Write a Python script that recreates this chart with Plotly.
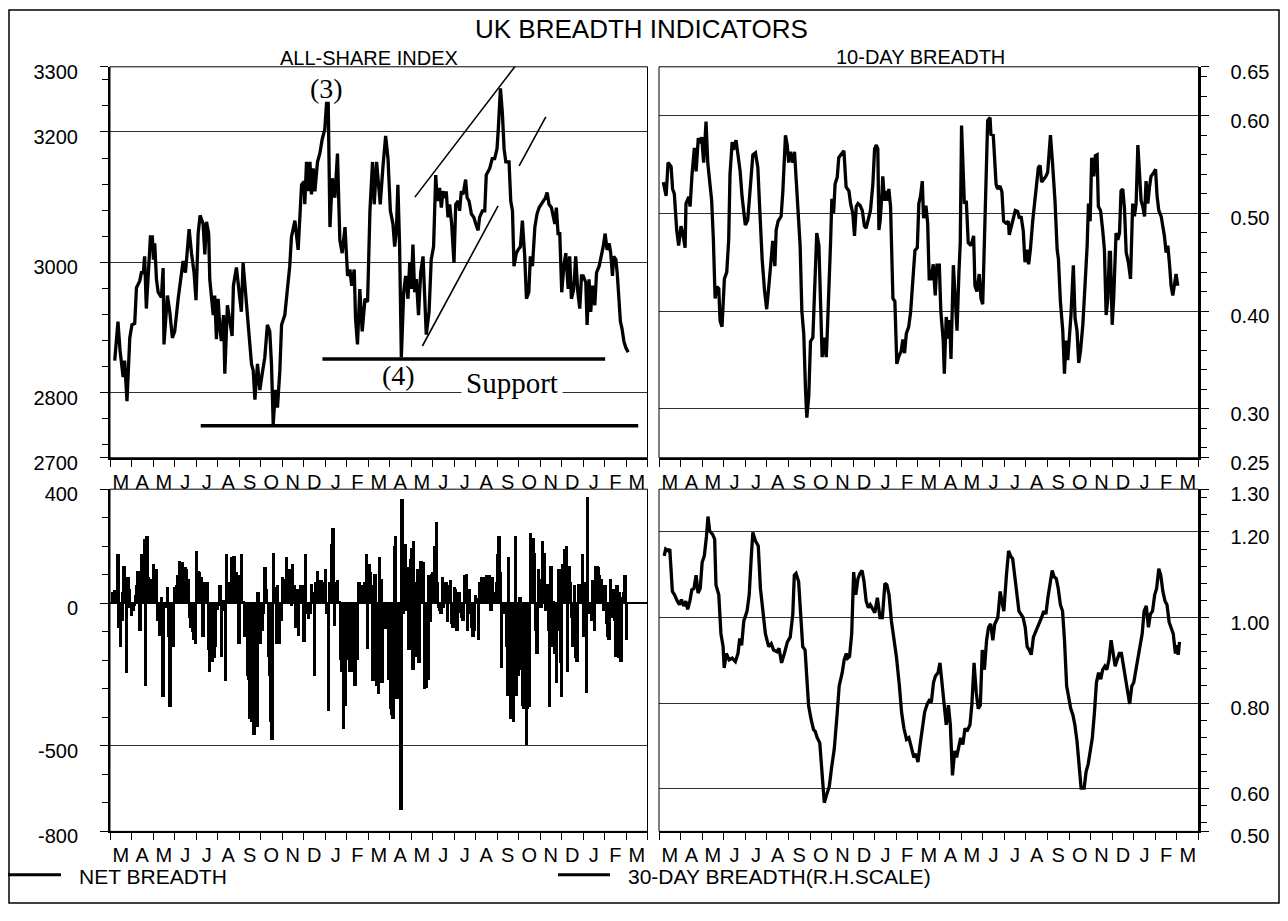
import plotly.graph_objects as go

# ---------------------------------------------------------------------------
# Data.  Time is measured in months from 1 March 1999 (0 = 1 Mar 1999,
# 10 = 1 Jan 2000, 22 = 1 Jan 2001); the axes run to 1 April 2001.
# ---------------------------------------------------------------------------
month_letters = list("MAMJJASONDJFMAMJJASONDJFM")

# FT All-Share index
share_t = [0.22, 0.37, 0.47, 0.61, 0.68, 0.79, 0.92, 1.02, 1.15, 1.23,
           1.38, 1.46, 1.55, 1.61, 1.69, 1.77, 1.88, 1.97, 2.02, 2.08,
           2.16, 2.24, 2.39, 2.47, 2.51, 2.67, 2.78, 2.90, 3.01, 3.17,
           3.29, 3.40, 3.51, 3.68, 3.79, 3.91, 4.00, 4.10, 4.19, 4.33,
           4.41, 4.49, 4.59, 4.64, 4.80, 4.87, 4.95, 5.03, 5.11, 5.18,
           5.28, 5.34, 5.46, 5.59, 5.68, 5.74, 5.88, 6.04, 6.11, 6.19,
           6.30, 6.43, 6.58, 6.66, 6.74, 6.86, 6.97, 7.08, 7.20, 7.32,
           7.43, 7.51, 7.59, 7.70, 7.79, 7.90, 7.98, 8.13, 8.29, 8.36,
           8.44, 8.60, 8.75, 8.83, 8.91, 9.03, 9.06, 9.14, 9.22, 9.30,
           9.37, 9.45, 9.53, 9.65, 9.76, 9.87, 9.99, 10.07, 10.15, 10.23,
           10.34, 10.46, 10.58, 10.69, 10.80, 10.93, 11.05, 11.16, 11.24, 11.36,
           11.42, 11.51, 11.62, 11.73, 11.86, 11.98, 12.09, 12.21, 12.29, 12.40,
           12.48, 12.57, 12.69, 12.82, 12.93, 13.04, 13.16, 13.24, 13.32, 13.39,
           13.47, 13.55, 13.66, 13.75, 13.86, 13.94, 14.01, 14.09, 14.17, 14.25,
           14.35, 14.45, 14.56, 14.63, 14.71, 14.84, 14.94, 15.05, 15.15, 15.22,
           15.33, 15.41, 15.49, 15.57, 15.64, 15.72, 15.80, 15.89, 16.00, 16.08,
           16.19, 16.26, 16.34, 16.42, 16.54, 16.61, 16.70, 16.81, 16.92, 17.01,
           17.12, 17.19, 17.32, 17.43, 17.50, 17.66, 17.78, 17.89, 18.00, 18.06,
           18.16, 18.25, 18.33, 18.41, 18.48, 18.56, 18.64, 18.72, 18.79, 18.90,
           18.98, 19.09, 19.18, 19.29, 19.37, 19.48, 19.55, 19.65, 19.76, 19.86,
           19.96, 20.07, 20.14, 20.25, 20.33, 20.42, 20.53, 20.61, 20.69, 20.76,
           20.84, 20.92, 21.01, 21.11, 21.20, 21.31, 21.38, 21.46, 21.57, 21.66,
           21.76, 21.85, 21.93, 22.01, 22.13, 22.19, 22.28, 22.36, 22.44, 22.55,
           22.63, 22.75, 22.86, 22.94, 23.03, 23.12, 23.22, 23.29, 23.37, 23.43,
           23.53, 23.59, 23.67, 23.74, 23.81, 23.90, 23.99, 24.10]
share_v = [2849, 2909, 2864, 2824, 2849, 2787, 2884, 2904, 2906, 2961,
           2971, 2984, 2984, 3009, 2929, 2984, 3039, 3039, 3004, 3029,
           2974, 2954, 2946, 2991, 2874, 2949, 2924, 2884, 2894, 2944,
           2974, 3002, 2984, 3051, 3014, 2984, 2942, 3044, 3072, 3059,
           3012, 3062, 3044, 2974, 2919, 2949, 2882, 2944, 2899, 2879,
           2919, 2829, 2934, 2904, 2887, 2964, 2992, 2944, 2924, 2999,
           2954, 2914, 2844, 2834, 2789, 2844, 2804, 2829, 2854, 2904,
           2894, 2844, 2752, 2804, 2777, 2834, 2904, 2919, 2964, 2994,
           3039, 3064, 3019, 3069, 3119, 3124, 3089, 3154, 3109, 3154,
           3104, 3144, 3109, 3154, 3167, 3189, 3204, 3244, 3244, 3054,
           3129, 3099, 3167, 3034, 3014, 3054, 2979, 2989, 2964, 2989,
           2914, 2874, 2959, 2894, 2944, 2939, 3079, 3154, 3089, 3154,
           3124, 3089, 3144, 3194, 3159, 3079, 3059, 3024, 3049, 3119,
           3024, 2854, 2954, 2979, 2944, 3000, 2959, 3027, 2954, 2974,
           2919, 2984, 3009, 2934, 2889, 2924, 3004, 3024, 3134, 3094,
           3114, 3084, 3109, 3099, 3109, 3069, 3089, 3059, 2999, 3089,
           3094, 3079, 3109, 3104, 3127, 3099, 3094, 3074, 3069, 3059,
           3049, 3069, 3079, 3079, 3134, 3144, 3159, 3159, 3174, 3204,
           3267, 3229, 3174, 3154, 3154, 3154, 3094, 3079, 2994, 3014,
           3019, 3024, 3064, 3009, 2944, 2954, 3009, 2994, 3054, 3074,
           3084, 3089, 3094, 3099, 3107, 3089, 3084, 3069, 3059, 3084,
           3044, 3044, 2954, 2994, 3014, 2959, 3009, 2944, 2959, 3009,
           2954, 2929, 2979, 2979, 2969, 2904, 2974, 2924, 2964, 2934,
           2984, 2994, 3009, 3024, 3044, 3019, 3029, 3014, 2979, 3009,
           3004, 2984, 2944, 2909, 2899, 2879, 2869, 2862]

# 10-day breadth
b10_t = [0.20, 0.33, 0.42, 0.56, 0.63, 0.71, 0.82, 0.91, 1.02, 1.10,
         1.21, 1.25, 1.38, 1.44, 1.53, 1.64, 1.72, 1.82, 1.92, 1.98,
         2.07, 2.18, 2.26, 2.34, 2.44, 2.52, 2.60, 2.68, 2.77, 2.83,
         2.92, 3.03, 3.14, 3.23, 3.29, 3.39, 3.45, 3.57, 3.65, 3.76,
         3.85, 3.93, 4.00, 4.11, 4.22, 4.35, 4.47, 4.58, 4.65, 4.78,
         4.89, 4.99, 5.12, 5.20, 5.27, 5.37, 5.43, 5.52, 5.66, 5.74,
         5.81, 5.86, 5.94, 6.01, 6.09, 6.20, 6.28, 6.39, 6.54, 6.62,
         6.71, 6.79, 6.85, 6.94, 7.02, 7.13, 7.24, 7.31, 7.41, 7.48,
         7.56, 7.64, 7.75, 7.79, 7.87, 7.95, 8.01, 8.09, 8.16, 8.26,
         8.33, 8.44, 8.57, 8.67, 8.80, 8.88, 8.98, 9.06, 9.14, 9.22,
         9.32, 9.42, 9.52, 9.60, 9.69, 9.80, 9.91, 9.99, 10.07, 10.14,
         10.19, 10.25, 10.33, 10.37, 10.45, 10.53, 10.61, 10.65, 10.73, 10.84,
         10.93, 11.02, 11.12, 11.22, 11.30, 11.38, 11.46, 11.57, 11.66, 11.77,
         11.86, 11.97, 12.04, 12.12, 12.20, 12.26, 12.37, 12.45, 12.52, 12.60,
         12.71, 12.80, 12.88, 12.99, 13.06, 13.17, 13.22, 13.31, 13.41, 13.47,
         13.53, 13.64, 13.71, 13.81, 13.90, 13.96, 14.02, 14.09, 14.15, 14.24,
         14.33, 14.46, 14.58, 14.64, 14.73, 14.84, 14.92, 15.00, 15.11, 15.17,
         15.23, 15.34, 15.38, 15.49, 15.62, 15.69, 15.80, 15.89, 15.97, 16.08,
         16.19, 16.23, 16.34, 16.44, 16.51, 16.62, 16.70, 16.78, 16.88, 16.96,
         17.05, 17.13, 17.21, 17.32, 17.42, 17.50, 17.58, 17.66, 17.73, 17.83,
         17.93, 18.01, 18.06, 18.14, 18.24, 18.35, 18.45, 18.51, 18.60, 18.71,
         18.79, 18.86, 18.94, 19.02, 19.09, 19.20, 19.28, 19.37, 19.45, 19.53,
         19.64, 19.74, 19.84, 19.90, 19.98, 20.05, 20.15, 20.22, 20.30, 20.36,
         20.46, 20.56, 20.64, 20.72, 20.80, 20.87, 20.92, 21.00, 21.07, 21.18,
         21.26, 21.34, 21.41, 21.49, 21.57, 21.65, 21.75, 21.85, 21.95, 22.03,
         22.11, 22.19, 22.26, 22.34, 22.42, 22.50, 22.57, 22.65, 22.73, 22.80,
         22.93, 23.01, 23.08, 23.16, 23.27, 23.35, 23.42, 23.50, 23.58, 23.66,
         23.73, 23.81, 23.89, 23.96, 24.04]
b10_v = [0.532, 0.518, 0.552, 0.548, 0.525, 0.520, 0.483, 0.467, 0.487, 0.480,
         0.465, 0.510, 0.517, 0.507, 0.540, 0.567, 0.543, 0.577, 0.572, 0.578,
         0.552, 0.594, 0.552, 0.537, 0.513, 0.473, 0.413, 0.425, 0.423, 0.390,
         0.384, 0.433, 0.440, 0.473, 0.540, 0.573, 0.565, 0.575, 0.560, 0.543,
         0.517, 0.503, 0.488, 0.493, 0.523, 0.560, 0.562, 0.547, 0.513, 0.453,
         0.421, 0.402, 0.433, 0.457, 0.472, 0.446, 0.483, 0.492, 0.497, 0.523,
         0.560, 0.580, 0.570, 0.552, 0.563, 0.552, 0.563, 0.523, 0.467, 0.400,
         0.376, 0.319, 0.291, 0.313, 0.369, 0.373, 0.440, 0.480, 0.467, 0.420,
         0.353, 0.373, 0.353, 0.373, 0.413, 0.470, 0.515, 0.500, 0.530, 0.537,
         0.557, 0.560, 0.564, 0.527, 0.523, 0.510, 0.500, 0.477, 0.507, 0.510,
         0.508, 0.503, 0.487, 0.485, 0.495, 0.503, 0.530, 0.566, 0.570, 0.566,
         0.483, 0.493, 0.520, 0.538, 0.513, 0.523, 0.513, 0.525, 0.507, 0.413,
         0.410, 0.346, 0.354, 0.359, 0.371, 0.357, 0.377, 0.384, 0.399, 0.433,
         0.462, 0.465, 0.510, 0.518, 0.533, 0.495, 0.508, 0.490, 0.433, 0.433,
         0.448, 0.416, 0.447, 0.447, 0.400, 0.370, 0.336, 0.394, 0.372, 0.391,
         0.351, 0.447, 0.413, 0.380, 0.440, 0.470, 0.590, 0.540, 0.510, 0.513,
         0.470, 0.467, 0.477, 0.426, 0.420, 0.438, 0.413, 0.407, 0.487, 0.552,
         0.595, 0.598, 0.581, 0.580, 0.530, 0.525, 0.528, 0.522, 0.492, 0.490,
         0.492, 0.478, 0.487, 0.498, 0.503, 0.502, 0.495, 0.497, 0.482, 0.450,
         0.463, 0.448, 0.463, 0.493, 0.517, 0.532, 0.547, 0.549, 0.532, 0.535,
         0.538, 0.542, 0.560, 0.580, 0.550, 0.513, 0.463, 0.453, 0.410, 0.380,
         0.336, 0.370, 0.350, 0.370, 0.396, 0.447, 0.393, 0.380, 0.347, 0.359,
         0.386, 0.426, 0.467, 0.510, 0.492, 0.557, 0.538, 0.559, 0.560, 0.507,
         0.503, 0.483, 0.463, 0.396, 0.413, 0.460, 0.460, 0.386, 0.413, 0.480,
         0.473, 0.480, 0.523, 0.525, 0.505, 0.460, 0.450, 0.433, 0.510, 0.497,
         0.510, 0.570, 0.537, 0.513, 0.507, 0.497, 0.533, 0.510, 0.527, 0.538,
         0.542, 0.545, 0.518, 0.503, 0.497, 0.487, 0.477, 0.460, 0.467, 0.447,
         0.426, 0.416, 0.431, 0.438, 0.426]

# 30-day breadth
b30_t = [0.24, 0.31, 0.43, 0.50, 0.62, 0.72, 0.85, 0.95, 1.04, 1.14,
         1.24, 1.33, 1.43, 1.52, 1.62, 1.72, 1.81, 1.91, 2.00, 2.10,
         2.20, 2.27, 2.35, 2.49, 2.58, 2.64, 2.77, 2.87, 2.97, 3.02,
         3.12, 3.25, 3.39, 3.54, 3.66, 3.74, 3.83, 3.93, 4.08, 4.18,
         4.27, 4.35, 4.47, 4.60, 4.70, 4.81, 4.93, 5.08, 5.20, 5.31,
         5.47, 5.56, 5.68, 5.81, 5.95, 6.08, 6.20, 6.27, 6.35, 6.47,
         6.58, 6.66, 6.77, 6.85, 6.93, 7.04, 7.16, 7.24, 7.33, 7.45,
         7.58, 7.66, 7.77, 7.89, 8.00, 8.12, 8.25, 8.35, 8.49, 8.58,
         8.68, 8.74, 8.83, 8.93, 9.02, 9.12, 9.22, 9.31, 9.41, 9.50,
         9.60, 9.70, 9.79, 9.89, 10.00, 10.12, 10.24, 10.35, 10.47, 10.56,
         10.66, 10.77, 10.89, 11.00, 11.14, 11.24, 11.35, 11.47, 11.58, 11.72,
         11.81, 11.91, 12.00, 12.10, 12.20, 12.31, 12.43, 12.52, 12.62, 12.72,
         12.81, 12.93, 13.02, 13.12, 13.22, 13.31, 13.41, 13.50, 13.60, 13.70,
         13.79, 13.89, 13.98, 14.08, 14.18, 14.27, 14.41, 14.50, 14.60, 14.70,
         14.79, 14.89, 14.98, 15.08, 15.18, 15.27, 15.37, 15.47, 15.56, 15.70,
         15.81, 15.89, 15.98, 16.10, 16.20, 16.29, 16.39, 16.48, 16.58, 16.68,
         16.77, 16.87, 16.97, 17.06, 17.16, 17.25, 17.35, 17.45, 17.54, 17.64,
         17.73, 17.83, 17.93, 18.02, 18.12, 18.22, 18.31, 18.41, 18.50, 18.60,
         18.70, 18.79, 18.89, 18.98, 19.08, 19.18, 19.27, 19.37, 19.47, 19.56,
         19.70, 19.79, 19.89, 19.98, 20.08, 20.18, 20.27, 20.37, 20.47, 20.56,
         20.66, 20.75, 20.85, 20.95, 21.04, 21.14, 21.23, 21.33, 21.43, 21.52,
         21.62, 21.72, 21.81, 21.91, 22.00, 22.10, 22.20, 22.29, 22.39, 22.48,
         22.58, 22.68, 22.77, 22.87, 22.97, 23.06, 23.16, 23.25, 23.35, 23.45,
         23.54, 23.64, 23.73, 23.83, 23.93, 23.98, 24.06, 24.12]
b30_v = [1.144, 1.160, 1.156, 1.160, 1.061, 1.053, 1.038, 1.030, 1.042, 1.027,
         1.038, 1.019, 1.038, 1.065, 1.068, 1.099, 1.057, 1.068, 1.129, 1.144,
         1.190, 1.236, 1.202, 1.194, 1.183, 1.076, 1.053, 0.962, 0.932, 0.882,
         0.916, 0.901, 0.905, 0.897, 0.916, 0.951, 0.935, 0.992, 1.015, 1.053,
         1.137, 1.199, 1.179, 1.167, 1.068, 1.015, 0.962, 0.932, 0.939, 0.924,
         0.920, 0.928, 0.894, 0.916, 0.943, 0.954, 1.008, 1.099, 1.103, 1.084,
         0.992, 0.932, 0.924, 0.856, 0.795, 0.764, 0.738, 0.734, 0.719, 0.707,
         0.612, 0.567, 0.586, 0.605, 0.650, 0.692, 0.772, 0.840, 0.871, 0.901,
         0.916, 0.905, 0.909, 0.962, 1.106, 1.053, 1.091, 1.103, 1.110, 1.084,
         1.038, 1.023, 1.030, 1.019, 1.011, 1.046, 1.000, 1.000, 1.080, 1.076,
         1.053, 0.992, 0.947, 0.909, 0.840, 0.779, 0.741, 0.715, 0.719, 0.688,
         0.673, 0.681, 0.662, 0.703, 0.741, 0.779, 0.798, 0.806, 0.802, 0.848,
         0.863, 0.871, 0.894, 0.840, 0.787, 0.749, 0.795, 0.749, 0.631, 0.688,
         0.673, 0.703, 0.719, 0.703, 0.741, 0.734, 0.749, 0.798, 0.894, 0.825,
         0.787, 0.795, 0.924, 0.878, 0.947, 0.977, 0.985, 0.947, 0.985, 1.000,
         1.061, 1.038, 1.015, 1.099, 1.156, 1.144, 1.137, 1.099, 1.053, 1.015,
         1.008, 1.000, 0.977, 0.932, 0.924, 0.913, 0.954, 0.966, 0.973, 0.989,
         1.000, 1.015, 1.008, 1.046, 1.084, 1.110, 1.095, 1.091, 1.068, 1.030,
         1.015, 0.947, 0.840, 0.810, 0.787, 0.772, 0.749, 0.711, 0.650, 0.601,
         0.601, 0.639, 0.658, 0.684, 0.719, 0.779, 0.848, 0.871, 0.856, 0.878,
         0.886, 0.878, 0.901, 0.947, 0.916, 0.886, 0.901, 0.916, 0.916, 0.886,
         0.856, 0.825, 0.798, 0.840, 0.848, 0.878, 0.909, 0.939, 0.962, 1.015,
         1.027, 0.977, 1.008, 1.015, 1.053, 1.068, 1.114, 1.099, 1.061, 1.038,
         1.030, 0.989, 0.977, 0.962, 0.916, 0.935, 0.913, 0.943]

# Daily net breadth (advances minus declines)
net_t = [0.14, 0.22, 0.29, 0.37, 0.42, 0.50, 0.56, 0.61, 0.65, 0.71,
         0.78, 0.84, 0.88, 0.93, 0.99, 1.06, 1.12, 1.18, 1.24, 1.30,
         1.37, 1.40, 1.46, 1.52, 1.57, 1.61, 1.66, 1.72, 1.77, 1.85,
         1.92, 2.02, 2.08, 2.16, 2.20, 2.27, 2.31, 2.39, 2.47, 2.55,
         2.67, 2.73, 2.79, 2.89, 2.95, 3.01, 3.09, 3.17, 3.23, 3.29,
         3.35, 3.41, 3.51, 3.57, 3.63, 3.69, 3.76, 3.83, 3.91, 3.97,
         4.03, 4.10, 4.17, 4.25, 4.33, 4.41, 4.48, 4.53, 4.59, 4.64,
         4.69, 4.75, 4.81, 4.87, 4.90, 4.97, 5.03, 5.11, 5.15, 5.18,
         5.25, 5.31, 5.37, 5.43, 5.49, 5.57, 5.65, 5.71, 5.76, 5.80,
         5.87, 5.93, 5.99, 6.05, 6.11, 6.19, 6.27, 6.33, 6.39, 6.46,
         6.52, 6.58, 6.64, 6.70, 6.77, 6.83, 6.89, 6.94, 7.00, 7.08,
         7.14, 7.20, 7.28, 7.36, 7.43, 7.48, 7.54, 7.60, 7.67, 7.74,
         7.79, 7.87, 7.95, 8.01, 8.10, 8.21, 8.29, 8.36, 8.44, 8.49,
         8.57, 8.64, 8.72, 8.78, 8.85, 8.91, 8.99, 9.03, 9.09, 9.16,
         9.22, 9.30, 9.37, 9.44, 9.50, 9.56, 9.65, 9.71, 9.81, 9.92,
         10.02, 10.10, 10.15, 10.23, 10.30, 10.38, 10.43, 10.49, 10.57, 10.65,
         10.72, 10.77, 10.85, 10.89, 10.96, 11.02, 11.08, 11.11, 11.16, 11.24,
         11.31, 11.39, 11.45, 11.51, 11.58, 11.62, 11.70, 11.78, 11.86, 11.93,
         11.98, 12.04, 12.12, 12.17, 12.24, 12.32, 12.40, 12.48, 12.54, 12.62,
         12.66, 12.72, 12.82, 12.90, 12.97, 13.04, 13.10, 13.16, 13.22, 13.28,
         13.35, 13.41, 13.47, 13.53, 13.59, 13.66, 13.72, 13.78, 13.84, 13.90,
         13.97, 14.03, 14.09, 14.12, 14.18, 14.25, 14.31, 14.37, 14.43, 14.49,
         14.56, 14.62, 14.71, 14.79, 14.84, 14.90, 14.96, 15.02, 15.10, 15.18,
         15.24, 15.27, 15.33, 15.39, 15.46, 15.52, 15.58, 15.64, 15.69, 15.77,
         15.83, 15.89, 15.95, 16.02, 16.08, 16.14, 16.23, 16.29, 16.36, 16.42,
         16.50, 16.57, 16.64, 16.70, 16.76, 16.82, 16.88, 16.95, 17.01, 17.07,
         17.13, 17.19, 17.27, 17.35, 17.43, 17.50, 17.58, 17.66, 17.72, 17.78,
         17.85, 17.91, 17.97, 18.03, 18.09, 18.16, 18.22, 18.28, 18.36, 18.44,
         18.48, 18.54, 18.59, 18.65, 18.72, 18.78, 18.81, 18.85, 18.90, 18.98,
         19.06, 19.12, 19.18, 19.24, 19.31, 19.37, 19.43, 19.49, 19.55, 19.62,
         19.68, 19.74, 19.80, 19.86, 19.93, 19.99, 20.05, 20.11, 20.17, 20.21,
         20.27, 20.33, 20.39, 20.45, 20.52, 20.58, 20.64, 20.70, 20.76, 20.83,
         20.89, 20.95, 21.01, 21.07, 21.15, 21.23, 21.29, 21.35, 21.42, 21.48,
         21.54, 21.60, 21.66, 21.73, 21.79, 21.85, 21.91, 21.97, 22.04, 22.10,
         22.16, 22.22, 22.28, 22.35, 22.41, 22.47, 22.53, 22.59, 22.66, 22.73,
         22.78, 22.84, 22.90, 22.97, 23.03, 23.09, 23.15, 23.21, 23.28, 23.34,
         23.40, 23.46, 23.53, 23.59, 23.65, 23.71, 23.77, 23.84, 23.90, 23.96,
         24.02]
net_v = [40, 46, 40, 171, -86, -154, -63, 40, 131, 63,
         -245, 91, 51, -17, -46, -29, -11, 29, 63, 114,
         97, -97, 171, 97, 171, 223, -291, 234, 91, 86,
         5, 137, 120, 120, -63, -5, -114, 23, -331, -17,
         57, -120, -365, -17, -154, 57, 63, 97, 148, 86,
         143, 63, 126, 120, 86, -51, -86, -103, -131, -143,
         183, 114, 108, 91, -120, 74, 23, 74, -166, -240,
         -143, -205, -143, -194, -154, -23, -11, 63, 57, -188,
         11, -29, -274, 171, 40, 74, 160, 97, 166, 114,
         108, 74, -143, 97, 171, 6, -120, -74, -257, -268,
         -405, -417, -325, -462, -268, -434, 40, -108, -143, -97,
         -40, 126, 51, -188, -257, -417, -479, 177, 57, -143,
         63, -143, -63, 91, 86, 160, 86, 120, -11, 137,
         63, -86, 51, -114, 63, 57, 63, -137, 171, -40,
         -57, -40, 68, 40, -257, 74, 114, 80, 80, 74,
         120, -40, -377, 74, 206, 263, -80, 74, 80, 6,
         -200, -240, -440, -200, -360, -200, -154, -200, -240, -200,
         -240, -291, -200, -200, 74, 63, 51, 63, 74, 171,
         -160, 137, 108, 63, -274, 103, -291, -320, 160, 86,
         -280, -23, -91, -11, -268, -371, -394, -405, 200, 234,
         -337, -325, -285, -725, 365, -40, 206, -29, 126, -166,
         154, 194, -234, 217, 74, -188, 120, -211, 148, 148,
         143, -302, -297, -268, 97, -68, 103, 108, 200, 285,
         74, -17, -29, -40, 91, -17, 74, 74, -68, 63,
         80, -74, -86, 57, 51, -97, 40, -34, -51, -63,
         97, 103, -97, 51, -40, -86, -120, -97, 29, 17,
         -131, 74, 91, 91, 40, 97, 91, 97, -29, 91,
         40, 40, 74, 171, 234, 108, -228, -40, -11, -154,
         -325, 160, -171, -405, -245, -417, -40, 234, -325, -257,
         23, -234, -360, -371, -371, -497, -371, -365, 245, 200,
         228, 177, -97, -177, 120, 86, -17, 217, 74, 177,
         -29, 68, -97, -365, 131, -154, 6, -177, -280, -97,
         120, -211, -331, 137, 188, 200, -240, 131, 74, -51,
         -154, 63, -194, -205, 68, 29, 68, 171, -120, 74,
         -314, 371, -40, -34, -63, 80, -97, 131, 131, 126,
         97, 86, 40, -29, 63, -74, -120, -131, 86, -51,
         51, -63, -188, 63, -194, 40, -205, 23, 40, 97,
         -131]

# Trend-line annotations on the index panel: (t0, v0, t1, v1)
support_long = (4.22, 2749, 24.57, 2749)
support_short = (9.88, 2851.5, 23.03, 2851.5)
wedge_upper = (14.18, 3100, 19.08, 3311)
wedge_lower = (14.53, 2871.5, 18.05, 3086.5)
wedge_return = (19.03, 3148, 20.27, 3223)

# ---------------------------------------------------------------------------
# Styling
# ---------------------------------------------------------------------------
W, H = 1288, 921
SANS = "Liberation Sans, Arial, Helvetica, sans-serif"
SERIF = "Liberation Serif, Times New Roman, serif"
INK = "black"
GRID = "#303030"
LINE_W = 3.3


def fx(px):
    return px / W


def fy(py):
    return 1 - py / H


left_dom = [fx(110), fx(647.5)]
right_dom = [fx(659), fx(1198.5)]
top_dom = [fy(462.8), fy(62.3)]
bot_dom = [fy(845.6), fy(495.0)]


def time_axis(domain, anchor):
    return dict(
        domain=domain, anchor=anchor, range=[0, 25],
        tickmode="array", tickvals=[i + 0.5 for i in range(25)],
        ticktext=month_letters, ticks="",
        tickfont=dict(family=SANS, size=20, color=INK),
        ticklabelstandoff=5,
        showline=True, linecolor=INK, linewidth=2,
        showgrid=False, zeroline=False, fixedrange=True,
        minor=dict(tickmode="linear", tick0=0, dtick=1, ticks="outside",
                   ticklen=7, tickwidth=1, tickcolor=INK, showgrid=False),
    )


def value_axis(domain, anchor, rng, vals, text, minor0, minordt, side="left"):
    return dict(
        domain=domain, anchor=anchor, range=rng, side=side,
        tickmode="array", tickvals=vals, ticktext=text,
        ticks="outside", ticklen=8, tickwidth=1, tickcolor=INK,
        tickfont=dict(family=SANS, size=20, color=INK),
        ticklabelstandoff=18, ticklabelshift=5,
        showline=True, linecolor=INK, linewidth=2,
        showgrid=True, gridcolor=GRID, gridwidth=1,
        zeroline=False, fixedrange=True,
        minor=dict(tickmode="linear", tick0=minor0, dtick=minordt,
                   ticks="outside", ticklen=6, tickwidth=1, tickcolor=INK,
                   showgrid=False),
    )


fig = go.Figure()

fig.add_trace(go.Scatter(x=share_t, y=share_v, mode="lines",
                         line=dict(color=INK, width=LINE_W), xaxis="x", yaxis="y",
                         showlegend=False, hoverinfo="skip"))
fig.add_trace(go.Scatter(x=b10_t, y=b10_v, mode="lines",
                         line=dict(color=INK, width=LINE_W), xaxis="x2", yaxis="y2",
                         showlegend=False, hoverinfo="skip"))
fig.add_trace(go.Bar(x=net_t, y=net_v, width=0.16,
                     marker=dict(color=INK, line=dict(width=0)),
                     xaxis="x3", yaxis="y3", showlegend=False, hoverinfo="skip"))
fig.add_trace(go.Scatter(x=b30_t, y=b30_v, mode="lines",
                         line=dict(color=INK, width=LINE_W), xaxis="x4", yaxis="y4",
                         showlegend=False, hoverinfo="skip"))

y3 = value_axis(bot_dom, "x3", [-800, 400], [-800, -500, 0, 400],
                ["-800", "-500", "0", "400"], 0, 100)
y3.update(zeroline=True, zerolinecolor=INK, zerolinewidth=2)

fig.update_layout(
    width=W, height=H,
    margin=dict(l=0, r=0, t=0, b=0),
    paper_bgcolor="white", plot_bgcolor="white",
    showlegend=False, bargap=0, barmode="overlay",
    xaxis=time_axis(left_dom, "y"),
    xaxis2=time_axis(right_dom, "y2"),
    xaxis3=time_axis(left_dom, "y3"),
    xaxis4=time_axis(right_dom, "y4"),
    yaxis=value_axis(top_dom, "x", [2700, 3300], [2700, 2800, 3000, 3200, 3300],
                     ["2700", "2800", "3000", "3200", "3300"], 2800, 40),
    yaxis2=value_axis(top_dom, "x2", [0.25, 0.65], [0.25, 0.30, 0.40, 0.50, 0.60, 0.65],
                      ["0.25", "0.30", "0.40", "0.50", "0.60", "0.65"], 0.30, 0.02,
                      side="right"),
    yaxis3=y3,
    yaxis4=value_axis(bot_dom, "x4", [0.50, 1.30], [0.50, 0.60, 0.80, 1.00, 1.20, 1.30],
                      ["0.50", "0.60", "0.80", "1.00", "1.20", "1.30"], 1.00, 0.04,
                      side="right"),
)

shapes = []
# thin frame around each panel
for xa, ya in (("x", "y"), ("x2", "y2"), ("x3", "y3"), ("x4", "y4")):
    shapes.append(dict(type="rect", xref=f"{xa} domain", yref=f"{ya} domain",
                       x0=0, x1=1, y0=0, y1=1, line=dict(color=INK, width=1)))

# support levels and wedge on the index
for seg, w in ((support_long, 3.5), (support_short, 3.5),
               (wedge_upper, 1.6), (wedge_lower, 1.6), (wedge_return, 1.6)):
    shapes.append(dict(type="line", xref="x", yref="y",
                       x0=seg[0], y0=seg[1], x1=seg[2], y1=seg[3],
                       line=dict(color=INK, width=w)))

# outer border of the whole chart
shapes.append(dict(type="rect", xref="paper", yref="paper",
                   x0=fx(9), x1=fx(1279), y0=fy(919), y1=fy(4),
                   line=dict(color=INK, width=1.5)))

# key strokes
shapes.append(dict(type="line", xref="paper", yref="paper",
                   x0=fx(8), x1=fx(61), y0=fy(890), y1=fy(890),
                   line=dict(color=INK, width=3)))
shapes.append(dict(type="line", xref="paper", yref="paper",
                   x0=fx(558), x1=fx(610), y0=fy(890), y1=fy(890),
                   line=dict(color=INK, width=3)))

annotations = [
    dict(text="UK BREADTH INDICATORS", xref="paper", yref="paper",
         x=fx(641.5), y=fy(24), xanchor="center", yanchor="middle",
         showarrow=False, font=dict(family=SANS, size=26, color=INK)),
    dict(text="ALL-SHARE INDEX", xref="paper", yref="paper",
         x=fx(369), y=fy(53), xanchor="center", yanchor="middle",
         showarrow=False, font=dict(family=SANS, size=20, color=INK)),
    dict(text="10-DAY BREADTH", xref="paper", yref="paper",
         x=fx(920), y=fy(52), xanchor="center", yanchor="middle",
         showarrow=False, font=dict(family=SANS, size=20, color=INK)),
    dict(text="NET BREADTH", xref="paper", yref="paper",
         x=fx(77), y=fy(892), xanchor="left", yanchor="middle",
         showarrow=False, font=dict(family=SANS, size=21, color=INK)),
    dict(text="30-DAY BREADTH(R.H.SCALE)", xref="paper", yref="paper",
         x=fx(626), y=fy(892), xanchor="left", yanchor="middle",
         showarrow=False, font=dict(family=SANS, size=21, color=INK)),
    # wave labels on the index
    dict(text="(3)", xref="x", yref="y", x=10.06, y=3267,
         xanchor="center", yanchor="middle", showarrow=False,
         font=dict(family=SERIF, size=28, color=INK)),
    dict(text="(5)", xref="x", yref="y", x=18.02, y=3323,
         xanchor="center", yanchor="middle", showarrow=False,
         font=dict(family=SERIF, size=28, color=INK)),
    dict(text="(4)", xref="x", yref="y", x=13.41, y=2827,
         xanchor="center", yanchor="middle", showarrow=False,
         font=dict(family=SERIF, size=28, color=INK)),
    dict(text="Support", xref="x", yref="y", x=18.72, y=2815,
         xanchor="center", yanchor="middle", showarrow=False,
         bgcolor="white", borderpad=4,
         font=dict(family=SERIF, size=29, color=INK)),
]

fig.update_layout(shapes=shapes, annotations=annotations)

fig.write_html("out.html")
